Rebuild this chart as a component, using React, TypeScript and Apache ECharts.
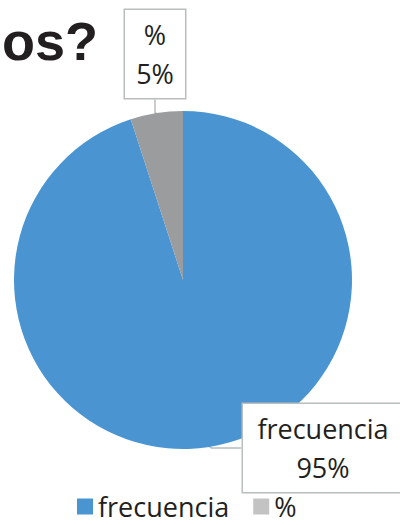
import React, { useEffect, useRef } from "react";
import * as echarts from "echarts";

const categories = ["frecuencia", "%"];
const values = [95, 5];
const sliceColors = ["#4a95d1", "#9a9c9e"];
const legendColors = ["#4a95d1", "#c3c3c3"];
const titleText = "os?";

export default function App() {
  const ref = useRef<HTMLDivElement>(null);
  useEffect(() => {
    if (!ref.current) return;
    const chart = echarts.init(ref.current, null, { renderer: "svg" });
    const font = "'Open Sans', 'Noto Sans', sans-serif";
    chart.setOption({
      animation: false,
      backgroundColor: "#ffffff",
      graphic: [
        {
          type: "text",
          right: 302,
          top: 14,
          style: {
            text: titleText,
            fontFamily: "'Liberation Sans', Arial, sans-serif",
            fontWeight: "bold",
            fontSize: 54,
            fill: "#231f20",
          },
        },
      ],
      legend: {
        data: categories.map((c, i) => ({ name: c, itemStyle: { color: legendColors[i] } })),
        left: 72,
        top: 488,
        icon: "rect",
        itemWidth: 16,
        itemHeight: 16,
        itemGap: 24,
        textStyle: { fontSize: 27, color: "#231f20", fontFamily: font },
      },
      series: [
        {
          type: "pie",
          center: [183, 280],
          radius: 169,
          startAngle: 90,
          clockwise: true,
          data: categories.map((c, i) => ({
            name: c,
            value: values[i],
            itemStyle: { color: sliceColors[i] },
            label:
              i === 0
                ? { width: 140, padding: [5, 20, 5, 10] }
                : { width: 40, padding: [5, 10, 5, 10] },
          })),
          label: {
            show: true,
            formatter: (p: any) => `${p.name}\n${Math.round(p.percent)}%`,
            fontSize: 27,
            lineHeight: 39,
            overflow: "none",
            color: "#231f20",
            fontFamily: font,
            backgroundColor: "#ffffff",
            borderColor: "#b9bdbd",
            borderWidth: 1.5,
            align: "center",
          },
          labelLine: {
            show: true,
            lineStyle: { color: "#b9bdbd", width: 1.5 },
          },
          labelLayout: (p: any) => {
            if (p.dataIndex === 0) {
              return { x: 328, y: 448, align: "center", verticalAlign: "middle" };
            }
            return { x: 155, y: 54, align: "center", verticalAlign: "middle" };
          },
        },
      ],
    });
    return () => chart.dispose();
  }, []);
  return (
    <div
      ref={ref}
      style={{ position: "fixed", left: 0, top: 0, width: 400, height: 525 }}
    />
  );
}
